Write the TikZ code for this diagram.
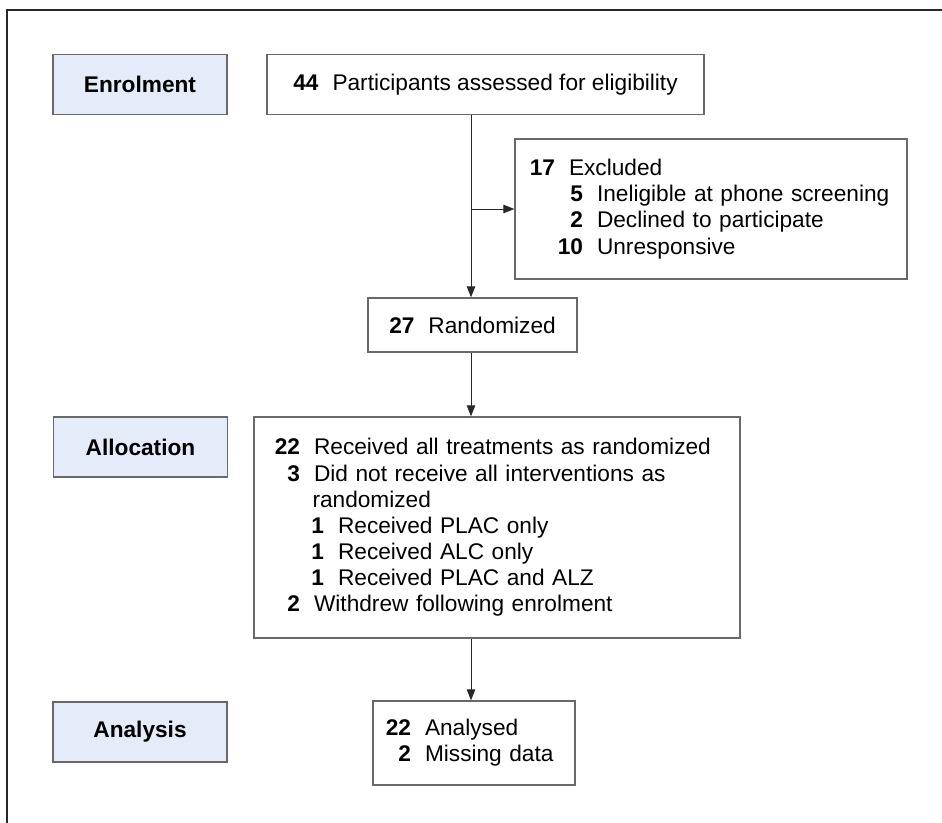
\documentclass[tikz,border=0pt]{standalone}
\usepackage{fontspec}
\setmainfont{Liberation Sans}
\usetikzlibrary{arrows.meta,positioning}

\definecolor{stagefill}{RGB}{228,235,249}
\definecolor{rimgrey}{RGB}{105,105,105}
\definecolor{inkgrey}{RGB}{40,40,40}

\newcommand{\flowfont}{\fontsize{12.9pt}{14.9pt}\selectfont}
% one counted line: right edge of the number, number, text
\newcommand{\countline}[3]{\hspace*{#1}\llap{\textbf{#2}}\hspace{0.28cm}#3}

\begin{document}
\begin{tikzpicture}[
    x=0.02cm, y=-0.02cm,
    >=Stealth,
    stage/.style={
        draw=rimgrey,
        fill=stagefill,
        line width=0.8pt,
        minimum width=3.48cm,
        minimum height=1.2cm,
        inner sep=0pt,
        font=\flowfont\bfseries
    },
    box/.style={
        draw=rimgrey,
        line width=0.8pt,
        inner sep=0pt,
        font=\flowfont
    },
    listbox/.style={
        box,
        align=left,
        text width=#1,
        minimum width=#1
    },
    flow/.style={
        -{Triangle[length=0.22cm,width=0.17cm]},
        draw=inkgrey,
        line width=0.5pt
    }
]
\useasboundingbox (0,0) rectangle (942,822);

% Outer frame
\draw[draw=inkgrey, line width=1.1pt] (7,840) |- (960,10);

% Stage labels
\node[stage] (enrolstage) at (140,84.5) {Enrolment};
\node[stage] (allocstage) at (140.5,447) {Allocation};
\node[stage] (analstage) at (140,732) {Analysis};

% Flow boxes
\node[box, minimum width=8.74cm, minimum height=1.2cm] (enrol) at (485.5,84.5)
{\textbf{44}\hspace{0.28cm}Participants assessed for eligibility};

\node[listbox=7.84cm, minimum height=2.8cm] (excl) at (711,209)
{\countline{0.8cm}{17}{Excluded}\\
 \countline{1.36cm}{5}{Ineligible at phone screening}\\
 \countline{1.36cm}{2}{Declined to participate}\\
 \countline{1.36cm}{10}{Unresponsive}};

\node[box, minimum width=4.18cm, minimum height=1.08cm] (rand) at (472.5,325)
{\textbf{27}\hspace{0.28cm}Randomized};

\node[listbox=9.72cm, minimum height=4.42cm] (alloc) at (497,527.5)
{\countline{0.92cm}{22}{Received all treatments as randomized}\\
 \countline{0.92cm}{3}{Did not receive all interventions as}\\
 \hspace*{1.17cm}randomized\\
 \countline{1.4cm}{1}{Received PLAC only}\\
 \countline{1.4cm}{1}{Received ALC only}\\
 \countline{1.4cm}{1}{Received PLAC and ALZ}\\
 \countline{0.92cm}{2}{Withdrew following enrolment}};

\node[listbox=4.04cm, minimum height=1.68cm] (anal) at (474,743)
{\countline{0.76cm}{22}{Analysed}\\
 \countline{0.76cm}{2}{Missing data}};

% Connectors along one spine
\coordinate (spine) at (471,0);
\draw[flow] (enrol.south -| spine) -- (rand.north -| spine);
\draw[flow] (spine |- excl.west) -- (excl.west);
\draw[flow] (rand.south -| spine) -- (alloc.north -| spine);
\draw[flow] (alloc.south -| spine) -- (anal.north -| spine);

\end{tikzpicture}
\end{document}
